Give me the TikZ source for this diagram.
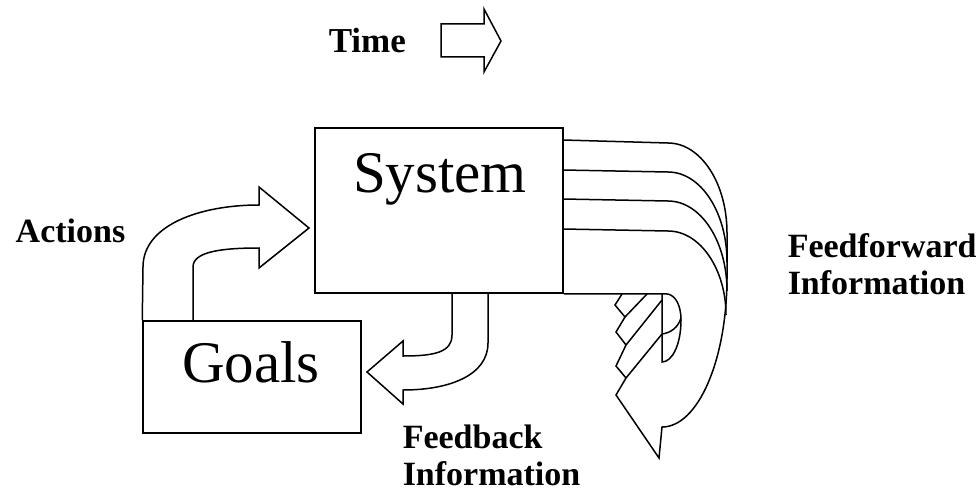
\documentclass[tikz,border=0pt]{standalone}
\usepackage{fontspec}
\setmainfont{Liberation Serif}
\begin{document}
\begin{tikzpicture}[x=1pt,y=-1pt,line width=1.5pt,
  box/.style={draw,rectangle,inner sep=0pt},
  bigtxt/.style={font=\fontsize{59}{70}\selectfont,inner sep=0pt,anchor=base},
  lbl/.style={font=\fontsize{34}{40}\selectfont\bfseries,inner sep=0pt,anchor=base west},
  outline/.style={draw,line width=1.5pt}]
\useasboundingbox (0,0) rectangle (979,492);

% boxes
\node[box,minimum width=248pt,minimum height=165pt] (sys) at (439,210.5) {};
\node[box,minimum width=218pt,minimum height=112pt] (goals) at (252,377) {};
\node[bigtxt] (systext) at (440,192) {System};
\node[bigtxt] (goaltext) at (251,382) {Goals};

% time arrow and labels
\node[lbl] (time) at (328,53) {\fontsize{35}{40}\selectfont Time};
\draw[outline] (441,24) -- (484,24) -- (484,9) -- (501,41) -- (484,72) -- (484,57) -- (441,57) -- cycle;
\node[lbl] (actions) at (15,242) {Actions};
\node[lbl] (ff1) at (787,257) {Feedforward};
\node[lbl] (ff2) at (787,294) {Information};
\node[lbl] (fb1) at (402,448) {Feedback};
\node[lbl] (fb2) at (402,485) {Information};

% actions: goals -> system
\draw[outline] (goals.north west) -- (143,267) .. controls (143,225) and (200,205) .. (259,205)
  -- (259,187) -- (309,228) -- (259,268) -- (259,248)
  .. controls (220,248) and (193,252) .. (193,267) -- (193,321);

% feedback: system -> goals
\draw[outline] (488,293) -- (488,343) .. controls (488,375) and (450,390) .. (403,390)
  -- (403,404) -- (367,372) -- (403,341) -- (403,356)
  .. controls (435,356) and (452,352) .. (452,335) -- (452,293);

% feedforward ribbon
\draw[outline] (563,140) -- (668,143) .. controls (700.6,143) and (727,183) .. (727,233)
  -- (727,277) .. controls (727,360) and (698,427) .. (662,427)
  -- (659,458) -- (616,395) -- (626,378) -- (616,366) -- (626,345)
  -- (616,332) -- (625,317) -- (615,305) -- (622,294);
\draw[outline] (563,170) -- (668,172) .. controls (700.6,172) and (727,212) .. (727,262);
\draw[outline] (563,199) -- (668,201) .. controls (700.6,201) and (727,241) .. (727,291);
\draw[outline] (563,229) -- (668,231) .. controls (700.6,231) and (726,270) .. (726,315);
\draw[outline] (sys.south east) -- (668,294)
  .. controls (676,296) and (681,306) .. (681,320)
  .. controls (681,345) and (672,362) .. (662,362) -- (662,294);
\draw[outline] (662,334) .. controls (670,333) and (678,328) .. (681,318);
\draw[outline] (625,317) -- (647,294);
\draw[outline] (626,345) -- (662,300);
\draw[outline] (626,378) -- (662,334);
\end{tikzpicture}
\end{document}
